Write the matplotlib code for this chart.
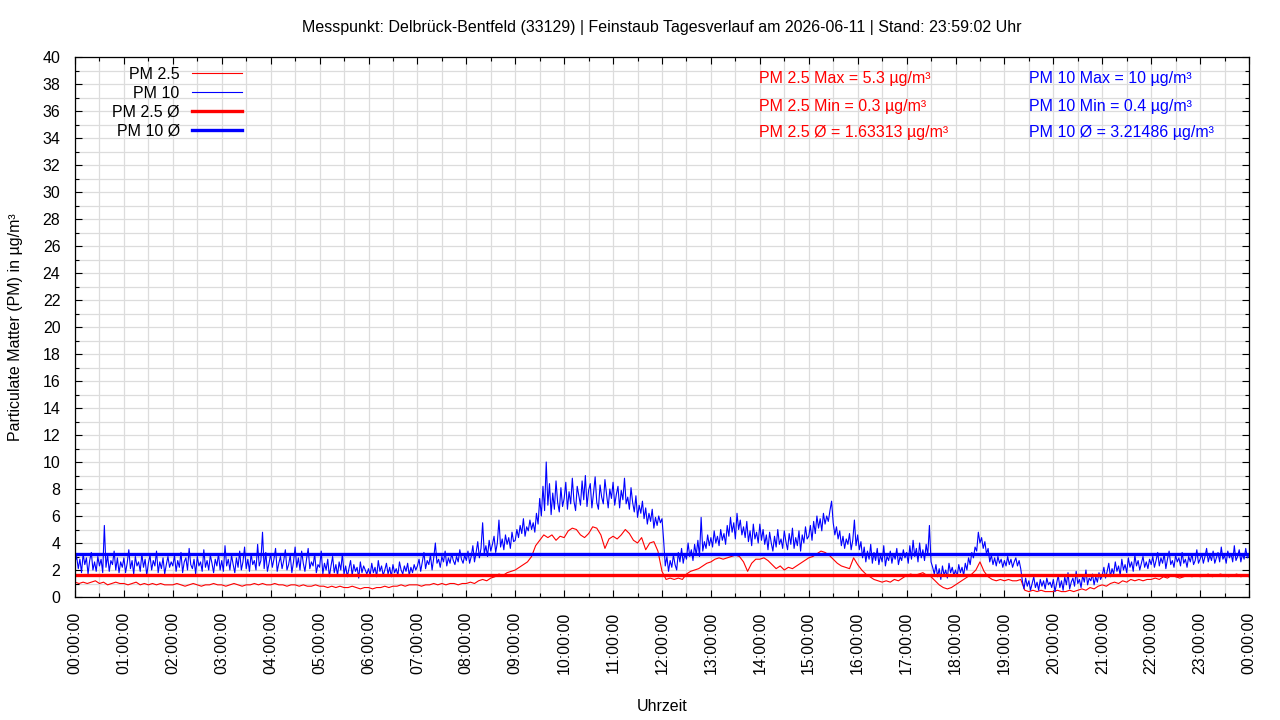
import numpy as np
import pandas as pd
import matplotlib
matplotlib.use("Agg")
import matplotlib.pyplot as plt
import matplotlib.dates as mdates
from matplotlib.ticker import MultipleLocator

plt.rcParams['font.family'] = ['Liberation Sans', 'DejaVu Sans']

# ---------------- data (µg/m³) ----------------
TITLE = ("Messpunkt: Delbrück-Bentfeld (33129) | Feinstaub Tagesverlauf am 2026-06-11"
         " | Stand: 23:59:02 Uhr")
DAY = "2026-06-11"

# PM 10, 2-minute readings (30 per hour)
pm10 = [
    2.6, 3.0, 2.1, 2.8, 1.8, 3.2, 2.4, 2.9, 1.7, 2.7, 3.3, 2.0, 2.6, 1.9, 3.0, 2.3, 2.8, 1.8, 5.3, 2.2, 3.1, 1.9, 2.7, 2.4, 3.4, 2.0, 2.9, 1.8, 2.6, 2.2,
    2.9, 1.8, 2.5, 3.5, 2.1, 2.7, 1.7, 3.0, 2.3, 2.6, 1.9, 3.2, 2.2, 2.8, 1.6, 2.5, 3.1, 2.0, 2.7, 2.3, 3.4, 1.8, 2.6, 2.1, 2.9, 1.7, 2.4, 3.0, 2.2, 2.6,
    2.3, 3.1, 1.9, 2.7, 2.2, 3.3, 1.8, 2.6, 2.9, 2.0, 3.6, 2.4, 2.1, 2.8, 1.7, 3.0, 2.3, 2.6, 1.9, 3.5, 2.2, 2.7, 2.0, 3.1, 2.5, 1.8, 2.8, 2.3, 3.2, 2.0,
    2.7, 1.9, 3.8, 2.3, 2.8, 2.0, 3.1, 2.4, 1.8, 2.9, 2.2, 3.4, 2.0, 2.6, 3.7, 2.1, 2.8, 1.9, 3.2, 2.4, 2.7, 2.0, 3.9, 2.3, 2.7, 4.8, 2.1, 3.3, 1.9, 2.5,
    3.2, 2.2, 2.8, 3.6, 1.9, 2.5, 3.0, 2.1, 2.7, 3.5, 2.0, 2.4, 3.1, 1.8, 2.6, 3.7, 2.2, 2.9, 2.0, 3.4, 2.5, 1.9, 2.8, 3.6, 2.1, 2.6, 2.3, 3.2, 1.8, 2.4,
    2.2, 3.4, 1.7, 2.5, 2.0, 2.8, 1.5, 2.3, 3.0, 1.8, 2.4, 1.6, 2.6, 2.0, 3.2, 1.7, 2.3, 1.5, 2.1, 2.7, 1.6, 2.4, 1.9, 2.2, 1.4, 2.6, 1.8, 2.3, 2.0, 1.7,
    2.1, 1.6, 2.5, 1.8, 2.2, 1.5, 2.7, 1.9, 2.3, 1.6, 2.0, 2.5, 1.7, 2.2, 1.5, 2.4, 1.8, 2.1, 1.6, 2.6, 2.0, 1.7, 2.3, 1.9, 2.5, 1.6, 2.2, 1.8, 2.4, 2.0,
    2.3, 2.8, 1.9, 2.6, 3.3, 2.1, 2.7, 2.4, 3.1, 2.0, 2.9, 4.0, 2.5, 2.8, 2.2, 3.0, 2.6, 3.4, 2.3, 2.9, 2.5, 3.2, 2.7, 2.4, 3.0, 2.6, 3.5, 2.8, 2.5, 3.1,
    2.7, 3.4, 2.5, 3.0, 3.8, 2.6, 3.3, 4.1, 2.9, 3.6, 5.5, 3.2, 3.8, 3.0, 4.2, 3.4, 3.9, 4.5, 3.3, 4.0, 5.7, 3.7, 4.3, 3.5, 4.6, 3.9, 4.4, 3.6, 4.8, 4.1,
    4.2, 5.0, 4.4, 5.3, 4.7, 5.8, 4.5, 5.2, 4.9, 5.7, 5.0, 5.5, 4.8, 6.2, 5.4, 7.3, 6.0, 8.2, 6.4, 10.0, 6.8, 8.4, 6.1, 7.7, 6.5, 8.6, 7.0, 6.3, 8.1, 6.7,
    7.3, 8.5, 6.5, 7.8, 6.9, 8.8, 7.1, 6.4, 8.2, 7.5, 6.8, 8.6, 7.2, 9.0, 6.7, 7.9, 8.4, 6.6, 7.7, 8.9, 7.0, 6.5, 8.3, 7.4, 6.9, 8.7, 7.6, 6.6, 8.0, 7.3,
    8.5, 6.8, 7.6, 8.2, 6.6, 7.9, 7.2, 8.8, 6.9, 7.4, 6.5, 8.1, 7.0, 6.3, 7.5, 5.9, 6.8, 6.2, 7.1, 5.8, 6.6, 5.4, 6.2, 5.6, 6.5, 5.1, 5.9, 5.3, 6.0, 5.5,
    5.8, 4.2, 2.3, 3.0, 1.9, 2.7, 2.2, 3.1, 2.4, 2.0, 3.3, 2.6, 3.6, 2.5, 3.2, 2.8, 4.0, 3.0, 3.5, 2.7, 3.9, 3.1, 4.2, 3.0, 5.9, 3.4, 4.1, 3.6, 4.6, 3.8,
    4.4, 3.7, 4.9, 4.0, 4.5, 3.8, 5.0, 4.2, 4.7, 3.9, 5.3, 4.5, 5.9, 4.8, 5.5, 4.3, 6.2, 5.0, 5.7, 4.6, 5.2, 4.4, 5.6, 4.1, 4.9, 3.8, 5.4, 4.3, 4.8, 4.0,
    5.4, 4.2, 5.0, 3.9, 4.6, 3.5, 4.8, 4.0, 3.4, 4.5, 3.7, 5.0, 3.9, 4.3, 3.6, 4.9, 4.1, 3.5, 4.7, 3.9, 5.1, 3.6, 4.4, 3.8, 4.9, 3.4, 4.6, 4.0, 5.2, 4.3,
    4.5, 5.3, 4.2, 5.6, 4.7, 6.0, 5.1, 5.8, 4.9, 6.2, 5.4, 6.0, 5.6, 6.4, 7.1, 5.5, 4.6, 5.2, 4.3, 4.9, 3.8, 4.5, 3.6, 4.3, 3.9, 4.7, 3.5, 4.2, 5.7, 3.8,
    4.6, 3.5, 4.1, 2.9, 3.7, 2.6, 3.4, 2.8, 3.9, 2.5, 3.3, 2.7, 3.6, 2.4, 3.1, 2.6, 3.8, 2.3, 3.0, 2.7, 3.4, 2.5, 3.2, 2.8, 3.6, 2.4, 3.0, 2.7, 3.5, 2.9,
    3.3, 2.5, 3.8, 2.8, 4.2, 3.0, 3.6, 2.6, 4.0, 2.9, 3.5, 2.7, 3.9, 3.1, 5.3, 2.6, 2.2, 1.7, 2.4, 1.5, 2.1, 1.3, 2.3, 1.6, 2.0, 1.4, 2.5, 1.8, 2.2, 1.6,
    2.0, 1.5, 2.4, 1.8, 2.2, 1.6, 2.5, 2.0, 2.9, 2.4, 3.3, 2.9, 3.7, 3.4, 4.8, 4.0, 4.4, 3.6, 4.1, 3.2, 3.6, 2.6, 3.1, 2.4, 2.9, 2.3, 3.0, 2.5, 2.8, 2.2,
    2.7, 2.3, 3.0, 2.4, 2.8, 2.2, 2.6, 2.9, 2.3, 2.7, 2.1, 1.2, 0.6, 1.4, 0.8, 1.2, 0.5, 1.0, 1.5, 0.7, 1.1, 0.5, 1.3, 0.8, 1.2, 0.6, 1.4, 0.9, 1.1, 0.7,
    1.3, 0.4, 1.0, 1.6, 0.7, 1.2, 0.5, 1.5, 0.9, 1.8, 0.6, 1.1, 1.4, 0.8, 1.9, 1.0, 1.3, 0.7, 1.6, 1.1, 2.0, 0.9, 1.4, 1.2, 1.7, 0.9, 1.5, 1.1, 1.8, 1.3,
    1.6, 2.2, 1.4, 1.9, 2.5, 1.5, 2.1, 1.7, 2.6, 1.9, 2.3, 1.6, 2.8, 2.0, 2.4, 1.8, 2.9, 2.2, 2.6, 1.9, 3.1, 2.3, 2.7, 2.0, 2.5, 3.0, 2.2, 2.6, 2.1, 2.8,
    2.4, 3.0, 2.2, 2.7, 3.3, 2.3, 2.9, 2.5, 3.2, 2.1, 2.8, 3.4, 2.4, 2.7, 2.2, 3.1, 2.6, 2.9, 2.3, 3.3, 2.5, 2.8, 2.2, 3.0, 2.6, 3.2, 2.4, 2.7, 3.5, 2.5,
    2.8, 3.2, 2.5, 3.0, 3.6, 2.6, 3.1, 2.7, 3.4, 2.5, 2.9, 3.3, 2.6, 3.7, 2.8, 3.1, 2.5, 3.4, 2.9, 3.2, 2.6, 3.8, 2.7, 3.0, 3.5, 2.6, 3.2, 2.8, 3.6, 2.9,
    3.0,
]

# PM 2.5, 5-minute readings (12 per hour)
pm25 = [
    1.1, 1.0, 1.1, 1.0, 1.1, 1.2, 1.0, 1.1, 0.9, 1.0, 1.1, 1.0,
    1.0, 0.9, 1.0, 1.1, 0.9, 1.0, 0.9, 1.0, 0.9, 1.0, 0.9, 0.9,
    0.9, 1.0, 0.9, 0.8, 0.9, 1.0, 0.9, 0.8, 0.9, 0.9, 1.0, 0.9,
    0.9, 0.8, 0.9, 1.0, 0.9, 0.8, 0.9, 0.9, 1.0, 0.9, 1.0, 0.9,
    0.9, 1.0, 0.9, 0.9, 0.8, 0.9, 0.9, 0.8, 0.9, 0.8, 0.8, 0.9,
    0.8, 0.8, 0.7, 0.8, 0.7, 0.8, 0.7, 0.7, 0.8, 0.7, 0.6, 0.7,
    0.7, 0.6, 0.7, 0.7, 0.8, 0.7, 0.8, 0.8, 0.9, 0.8, 0.9, 0.9,
    0.9, 0.8, 0.9, 0.9, 1.0, 0.9, 1.0, 0.9, 1.0, 1.0, 0.9, 1.0,
    1.0, 1.1, 1.0, 1.2, 1.3, 1.2, 1.4, 1.5, 1.7, 1.6, 1.8, 1.9,
    2.0, 2.2, 2.4, 2.6, 3.0, 3.8, 4.2, 4.6, 4.4, 4.6, 4.2, 4.5,
    4.4, 4.9, 5.1, 5.0, 4.6, 4.4, 4.7, 5.2, 5.1, 4.6, 3.6, 4.3,
    4.5, 4.3, 4.6, 5.0, 4.7, 4.2, 4.0, 4.4, 3.5, 4.0, 4.1, 3.4,
    1.9, 1.3, 1.4, 1.3, 1.4, 1.3, 1.7, 1.9, 2.0, 2.1, 2.3, 2.5,
    2.6, 2.8, 2.9, 2.8, 2.9, 3.0, 3.1, 3.0, 2.6, 1.9, 2.5, 2.8,
    2.8, 2.9, 2.7, 2.4, 2.1, 2.3, 2.0, 2.2, 2.1, 2.3, 2.5, 2.7,
    2.9, 3.0, 3.2, 3.4, 3.3, 3.1, 2.8, 2.5, 2.3, 2.2, 2.1, 2.9,
    2.4, 2.0, 1.7, 1.5, 1.3, 1.2, 1.1, 1.2, 1.1, 1.3, 1.2, 1.4,
    1.6, 1.7, 1.6, 1.7, 1.8, 1.6, 1.5, 1.2, 0.9, 0.7, 0.6, 0.7,
    0.9, 1.1, 1.3, 1.5, 1.7, 2.0, 2.6, 1.9, 1.5, 1.3, 1.2, 1.3,
    1.2, 1.3, 1.2, 1.2, 1.3, 0.5, 0.4, 0.5, 0.4, 0.5, 0.4, 0.4,
    0.4, 0.5, 0.4, 0.4, 0.5, 0.4, 0.5, 0.6, 0.5, 0.7, 0.6, 0.8,
    0.9, 0.8, 1.0, 1.1, 1.0, 1.2, 1.1, 1.3, 1.2, 1.3, 1.2, 1.3,
    1.3, 1.4, 1.3, 1.5, 1.4, 1.6, 1.5, 1.4, 1.5, 1.6, 1.5, 1.6,
    1.5, 1.6, 1.7, 1.5, 1.6, 1.7, 1.6, 1.5, 1.6, 1.7, 1.5, 1.6,
    1.5,
]

PM25_MAX, PM25_MIN, PM25_AVG = "5.3", "0.3", "1.63313"
PM10_MAX, PM10_MIN, PM10_AVG = "10", "0.4", "3.21486"

t10 = pd.date_range(f"{DAY} 00:00", periods=len(pm10), freq="2min")
t25 = pd.date_range(f"{DAY} 00:00", periods=len(pm25), freq="5min")

RED = "#ff0000"
BLUE = "#0000ff"
FS = 11.5

# ---------------- figure ----------------
fig = plt.figure(figsize=(12.8, 7.2), dpi=100)
ax = fig.add_axes([75 / 1280, 123 / 720, 1174 / 1280, 540 / 720])

ax.plot(t25, pm25, color=RED, lw=0.8, label="PM 2.5")
ax.plot(t10, pm10, color=BLUE, lw=0.8, label="PM 10")
ax.axhline(float(PM25_AVG), color=RED, lw=2.4, label="PM 2.5 Ø")
ax.axhline(float(PM10_AVG), color=BLUE, lw=2.4, label="PM 10 Ø")

start = pd.Timestamp(f"{DAY} 00:00")
ax.set_xlim(start, start + pd.Timedelta(days=1))
ax.set_ylim(0, 40)

ax.xaxis.set_major_locator(mdates.HourLocator(interval=1))
ax.xaxis.set_minor_locator(mdates.MinuteLocator(byminute=[30]))
ax.xaxis.set_major_formatter(mdates.DateFormatter("%H:%M:%S"))
ax.yaxis.set_major_locator(MultipleLocator(2))
ax.yaxis.set_minor_locator(MultipleLocator(1))

ax.grid(True, which="both", color="#dcdcdc", lw=0.9)
ax.set_axisbelow(True)
ax.tick_params(which="both", direction="in", top=True, right=True, labelsize=FS, color="black")
ax.tick_params(which="major", length=5, width=0.8)
ax.tick_params(which="minor", length=3, width=0.8)
ax.tick_params(axis="x", which="major", labelrotation=90, pad=10.5)
ax.tick_params(axis="y", which="major", pad=10.5)
for s in ax.spines.values():
    s.set_linewidth(0.9)

ax.set_xlabel("Uhrzeit", fontsize=FS, labelpad=18)
ax.set_ylabel("Particulate Matter (PM) in µg/m³", fontsize=FS, labelpad=14)
fig.suptitle(TITLE, fontsize=FS, x=(75 + 1174 / 2) / 1280, y=1 - 20 / 720)

leg = ax.legend(loc="upper right", bbox_to_anchor=(0.1422, 0.982), markerfirst=False,
                frameon=False, fontsize=FS, handlelength=3.1, handletextpad=0.8,
                labelspacing=0.24, borderpad=0, borderaxespad=0)

stats_red = [f"PM 2.5 Max = {PM25_MAX} µg/m³", f"PM 2.5 Min = {PM25_MIN} µg/m³",
             f"PM 2.5 Ø = {PM25_AVG} µg/m³"]
stats_blue = [f"PM 10 Max = {PM10_MAX} µg/m³", f"PM 10 Min = {PM10_MIN} µg/m³",
              f"PM 10 Ø = {PM10_AVG} µg/m³"]
for i, (r, b) in enumerate(zip(stats_red, stats_blue)):
    yy = 1 - (22 + 27 * i) / 540
    ax.text((759 - 75) / 1174, yy, r, color=RED, fontsize=FS, transform=ax.transAxes,
            ha="left", va="center")
    ax.text((1029 - 75) / 1174, yy, b, color=BLUE, fontsize=FS, transform=ax.transAxes,
            ha="left", va="center")

fig.savefig("out.png", dpi=100)
